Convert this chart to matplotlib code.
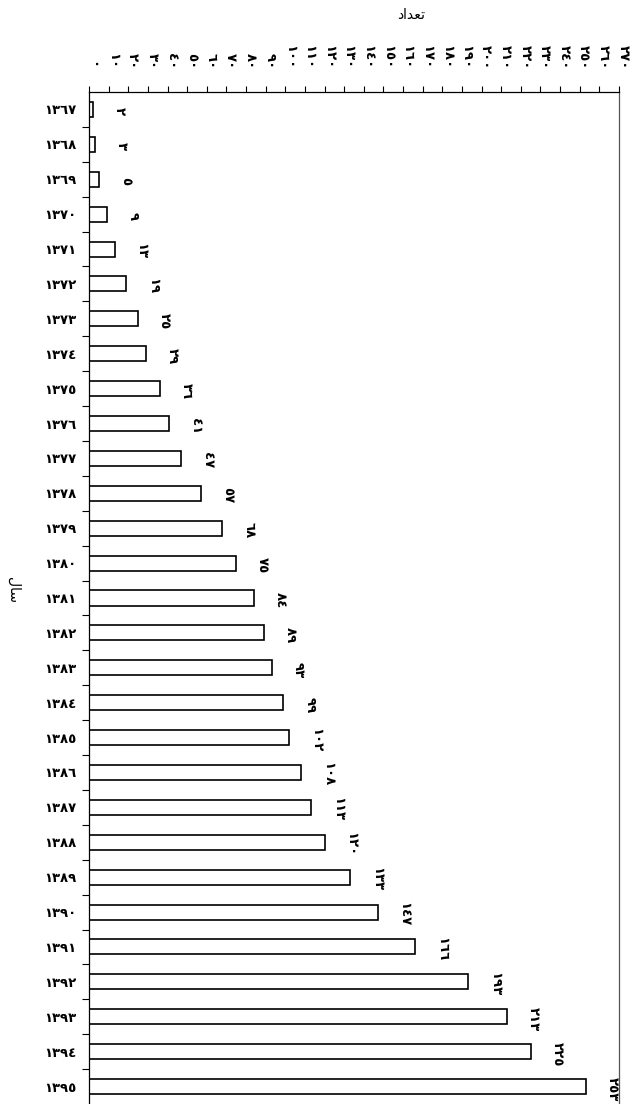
import matplotlib
matplotlib.use("Agg")
import matplotlib.pyplot as plt
from matplotlib.transforms import ScaledTranslation

plt.rcParams['font.family'] = ['DejaVu Sans']

years = list(range(1367, 1396))
counts = [2, 3, 5, 9, 13, 19, 25, 29, 36, 41, 47, 57, 68, 75, 84, 89, 93, 99,
          102, 108, 113, 120, 133, 147, 166, 193, 213, 225, 253]
x_ticks = list(range(0, 271, 10))

# Arabic letters in visual order (presentation forms), matplotlib does no shaping
x_title = "\uFEA9\uFE8D\uFEAA\uFECC\uFE97"   # تعداد
y_title = "\uFEDD\uFE8E\uFEB3"               # سال


def fa(n):
    return str(n).translate(str.maketrans('0123456789', '٠١٢٣٤٥٦٧٨٩'))


fig = plt.figure(figsize=(6.34, 11.04), dpi=100)
ax = fig.add_axes([89 / 634, 0.0, (619 - 89) / 634, 1 - 92 / 1104])

pos = list(range(len(years)))
ax.barh(pos, counts, height=0.43, color='white', edgecolor='black', linewidth=1.2)

for p, v in zip(pos, counts):
    ax.annotate(fa(v), (v, p), xytext=(19, -1.5), textcoords='offset points',
                rotation=-90, ha='center', va='center', fontsize=9.5, fontweight='bold')

ax.set_xlim(0, 270)
ax.set_ylim(len(years) - 0.5, -0.5)

ax.xaxis.tick_top()
ax.set_xticks(x_ticks)
ax.set_xticklabels([fa(t) for t in x_ticks], rotation=-90, fontsize=9.5, fontweight='bold')
ax.tick_params(axis='x', direction='out', length=4.5, width=0.8, pad=12)
shift = ScaledTranslation(4 / 100, 0, fig.dpi_scale_trans)
for lab in ax.get_xticklabels():
    lab.set_transform(lab.get_transform() + shift)

ax.set_yticks(pos)
ax.set_yticklabels([fa(y) for y in years], fontsize=9.5, fontweight='bold')
ax.set_yticks([p + 0.5 for p in pos[:-1]], minor=True)
ax.tick_params(axis='y', which='major', length=0, pad=9)
ax.tick_params(axis='y', which='minor', direction='out', length=5, width=0.8)

ax.spines['bottom'].set_visible(False)
for s in ['left', 'top']:
    ax.spines[s].set_linewidth(0.9)
ax.spines['right'].set_linewidth(0.9)
ax.spines['right'].set_color('#555555')

fig.text(411 / 634, 1 - 15 / 1104, x_title, ha='center', va='center', fontsize=10)
fig.text(13 / 634, 1 - 590 / 1104, y_title, ha='center', va='center', rotation=-90, fontsize=10)

fig.savefig('out.png', dpi=100)
